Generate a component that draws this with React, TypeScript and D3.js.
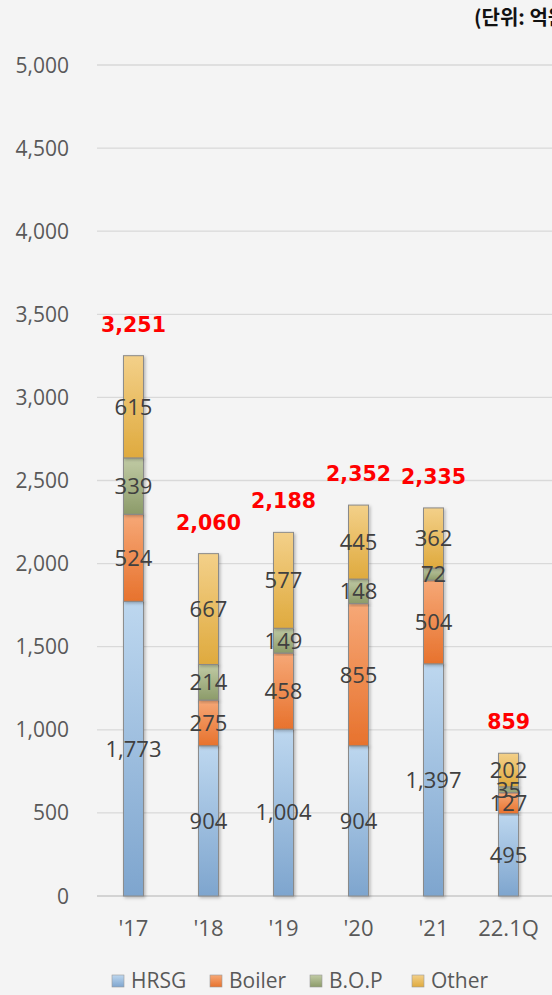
import React from "react";
import * as d3 from "d3";

const categories = ["'17", "'18", "'19", "'20", "'21", "22.1Q"];
const seriesNames = ["HRSG", "Boiler", "B.O.P", "Other"];
const hrsg = [1773, 904, 1004, 904, 1397, 495];
const boiler = [524, 275, 458, 855, 504, 127];
const bop = [339, 214, 149, 148, 72, 35];
const other = [615, 667, 577, 445, 362, 202];
const yTicks = [0, 500, 1000, 1500, 2000, 2500, 3000, 3500, 4000, 4500, 5000];

const colorsTop = ["#bdd7ef", "#f6a877", "#c1cba5", "#f3d089"];
const colorsBottom = ["#7ea5ce", "#e7722d", "#8c9b69", "#dfaa3e"];

export default function App() {
  const W = 552, H = 995;
  const y = d3.scaleLinear().domain([0, 5000]).range([896, 65]);
  const x = d3.scaleBand().domain(categories).range([96, 546]).paddingInner(0.733).paddingOuter(0.366);
  const bw = x.bandwidth();
  const rows = categories.map((c, i) => ({ cat: c, HRSG: hrsg[i], Boiler: boiler[i], "B.O.P": bop[i], Other: other[i] }));
  const stacked = d3.stack<any>().keys(seriesNames)(rows);
  const totals = categories.map((_, i) => hrsg[i] + boiler[i] + bop[i] + other[i]);
  const fmt = d3.format(",");
  const font = "'Open Sans', Roboto, sans-serif";

  return (
    <div style={{ position: "absolute", left: 0, top: 0 }}>
      <svg width={W} height={H} style={{ display: "block", background: "#f4f4f4" }}>
        <defs>
          {seriesNames.map((s, k) => (
            <linearGradient key={s} id={`g${k}`} x1="0" y1="0" x2="0" y2="1">
              <stop offset="0" stopColor={colorsTop[k]} />
              <stop offset="1" stopColor={colorsBottom[k]} />
            </linearGradient>
          ))}
          <filter id="sh" x="-30%" y="-10%" width="160%" height="120%">
            <feDropShadow dx="1.5" dy="1.5" stdDeviation="1.5" floodColor="#000" floodOpacity="0.25" />
          </filter>
        </defs>
        <text x={474} y={25} fontFamily="'Noto Sans CJK KR', sans-serif" fontWeight="bold" fontSize={20} fill="#111">(단위: 억원)</text>
        {yTicks.map((t) => (
          <g key={t}>
            <line x1={97} x2={W} y1={y(t)} y2={y(t)} stroke={t === 0 ? "#c8c8c8" : "#d9d9d9"} strokeWidth={1.3} />
            <text x={69} y={y(t)} dy="0.36em" textAnchor="end" fontFamily={font} fontSize={21} fill="#595959">{fmt(t)}</text>
          </g>
        ))}
        {stacked.map((layer, k) => (
          <g key={layer.key}>
            {layer.map((d, i) => (
              <rect key={i} x={x(categories[i])!} y={y(d[1])} width={bw} height={y(d[0]) - y(d[1])}
                fill={`url(#g${k})`} stroke="#8a8a8a" strokeWidth={1} filter="url(#sh)" />
            ))}
          </g>
        ))}
        {stacked.map((layer) => (
          <g key={layer.key + "l"}>
            {layer.map((d, i) => (
              <text key={i} x={x(categories[i])! + bw / 2} y={(y(d[0]) + y(d[1])) / 2} dy="0.36em" textAnchor="middle"
                fontFamily={font} fontSize={22} fill="#404040">{fmt(d[1] - d[0])}</text>
            ))}
          </g>
        ))}
        {totals.map((t, i) => (
          <text key={i} x={x(categories[i])! + bw / 2} y={y(t) - 24} textAnchor="middle" fontFamily="'DejaVu Sans', sans-serif"
            fontWeight="bold" fontSize={20.5} fill="#ff0000">{fmt(t)}</text>
        ))}
        {categories.map((c) => (
          <text key={c} x={x(c)! + bw / 2} y={936} textAnchor="middle" fontFamily={font} fontSize={22} fill="#595959">{c}</text>
        ))}
        {seriesNames.map((s, k) => {
          const lx = [112, 210, 310, 412][k];
          return (
            <g key={s}>
              <rect x={lx} y={975} width={12} height={12} fill={`url(#g${k})`} stroke="#9a9a9a" strokeWidth={0.6} />
              <text x={lx + 19} y={988} fontFamily={font} fontSize={21} fill="#595959">{s}</text>
            </g>
          );
        })}
      </svg>
    </div>
  );
}
